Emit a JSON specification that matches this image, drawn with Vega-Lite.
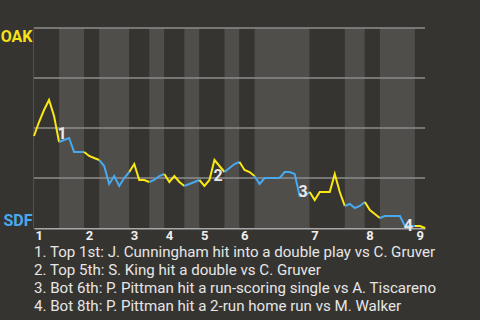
{
  "$schema": "https://vega.github.io/schema/vega-lite/v6.json",
  "width": 391,
  "height": 200,
  "autosize": {"type": "none"},
  "padding": {"left": 34, "top": 28, "right": 55, "bottom": 92},
  "background": "#363431",
  "config": {"view": {"stroke": null}, "font": "Roboto"},
  "title": {
    "text": [
      "1. Top 1st: J. Cunningham hit into a double play vs C. Gruver",
      "2. Top 5th: S. King hit a double vs C. Gruver",
      "3. Bot 6th: P. Pittman hit a run-scoring single vs A. Tiscareno",
      "4. Bot 8th: P. Pittman hit a 2-run home run vs M. Walker"
    ],
    "orient": "bottom",
    "anchor": "start",
    "frame": "group",
    "fontSize": 15.1,
    "fontWeight": "normal",
    "color": "#e6e6e6",
    "lineHeight": 18,
    "offset": 3
  },
  "datasets": {
    "halves": [
      {"p": 0, "p2": 5, "half": "top"},
      {"p": 5, "p2": 10, "half": "bot"},
      {"p": 10, "p2": 13, "half": "top"},
      {"p": 13, "p2": 19, "half": "bot"},
      {"p": 19, "p2": 23, "half": "top"},
      {"p": 23, "p2": 26, "half": "bot"},
      {"p": 26, "p2": 30, "half": "top"},
      {"p": 30, "p2": 33, "half": "bot"},
      {"p": 33, "p2": 38, "half": "top"},
      {"p": 38, "p2": 41, "half": "bot"},
      {"p": 41, "p2": 44, "half": "top"},
      {"p": 44, "p2": 55, "half": "bot"},
      {"p": 55, "p2": 62, "half": "top"},
      {"p": 62, "p2": 66, "half": "bot"},
      {"p": 66, "p2": 69, "half": "top"},
      {"p": 69, "p2": 76, "half": "bot"},
      {"p": 76, "p2": 78, "half": "top"}
    ],
    "gridlines": [
      {"wp": 0.25},
      {"wp": 0.5},
      {"wp": 0.75},
      {"wp": 1}
    ],
    "winprob": [
      {"p": 0, "wp": 0.46, "h": 1, "team": "OAK"},
      {"p": 1, "wp": 0.53, "h": 1, "team": "OAK"},
      {"p": 2, "wp": 0.59, "h": 1, "team": "OAK"},
      {"p": 3, "wp": 0.64, "h": 1, "team": "OAK"},
      {"p": 4, "wp": 0.56, "h": 1, "team": "OAK"},
      {"p": 5, "wp": 0.43, "h": 1, "team": "OAK"},
      {"p": 5, "wp": 0.43, "h": 2, "team": "SDF"},
      {"p": 6, "wp": 0.44, "h": 2, "team": "SDF"},
      {"p": 7, "wp": 0.45, "h": 2, "team": "SDF"},
      {"p": 8, "wp": 0.38, "h": 2, "team": "SDF"},
      {"p": 9, "wp": 0.38, "h": 2, "team": "SDF"},
      {"p": 10, "wp": 0.38, "h": 2, "team": "SDF"},
      {"p": 10, "wp": 0.38, "h": 3, "team": "OAK"},
      {"p": 11, "wp": 0.36, "h": 3, "team": "OAK"},
      {"p": 12, "wp": 0.35, "h": 3, "team": "OAK"},
      {"p": 13, "wp": 0.34, "h": 3, "team": "OAK"},
      {"p": 13, "wp": 0.34, "h": 4, "team": "SDF"},
      {"p": 14, "wp": 0.31, "h": 4, "team": "SDF"},
      {"p": 15, "wp": 0.22, "h": 4, "team": "SDF"},
      {"p": 16, "wp": 0.26, "h": 4, "team": "SDF"},
      {"p": 17, "wp": 0.21, "h": 4, "team": "SDF"},
      {"p": 18, "wp": 0.25, "h": 4, "team": "SDF"},
      {"p": 19, "wp": 0.28, "h": 4, "team": "SDF"},
      {"p": 19, "wp": 0.28, "h": 5, "team": "OAK"},
      {"p": 20, "wp": 0.32, "h": 5, "team": "OAK"},
      {"p": 21, "wp": 0.24, "h": 5, "team": "OAK"},
      {"p": 22, "wp": 0.24, "h": 5, "team": "OAK"},
      {"p": 23, "wp": 0.23, "h": 5, "team": "OAK"},
      {"p": 23, "wp": 0.23, "h": 6, "team": "SDF"},
      {"p": 24, "wp": 0.24, "h": 6, "team": "SDF"},
      {"p": 25, "wp": 0.26, "h": 6, "team": "SDF"},
      {"p": 26, "wp": 0.27, "h": 6, "team": "SDF"},
      {"p": 26, "wp": 0.27, "h": 7, "team": "OAK"},
      {"p": 27, "wp": 0.23, "h": 7, "team": "OAK"},
      {"p": 28, "wp": 0.26, "h": 7, "team": "OAK"},
      {"p": 29, "wp": 0.23, "h": 7, "team": "OAK"},
      {"p": 30, "wp": 0.21, "h": 7, "team": "OAK"},
      {"p": 30, "wp": 0.21, "h": 8, "team": "SDF"},
      {"p": 31, "wp": 0.22, "h": 8, "team": "SDF"},
      {"p": 32, "wp": 0.23, "h": 8, "team": "SDF"},
      {"p": 33, "wp": 0.24, "h": 8, "team": "SDF"},
      {"p": 33, "wp": 0.24, "h": 9, "team": "OAK"},
      {"p": 34, "wp": 0.21, "h": 9, "team": "OAK"},
      {"p": 35, "wp": 0.24, "h": 9, "team": "OAK"},
      {"p": 36, "wp": 0.34, "h": 9, "team": "OAK"},
      {"p": 37, "wp": 0.31, "h": 9, "team": "OAK"},
      {"p": 38, "wp": 0.28, "h": 9, "team": "OAK"},
      {"p": 38, "wp": 0.28, "h": 10, "team": "SDF"},
      {"p": 39, "wp": 0.30, "h": 10, "team": "SDF"},
      {"p": 40, "wp": 0.32, "h": 10, "team": "SDF"},
      {"p": 41, "wp": 0.33, "h": 10, "team": "SDF"},
      {"p": 41, "wp": 0.33, "h": 11, "team": "OAK"},
      {"p": 42, "wp": 0.29, "h": 11, "team": "OAK"},
      {"p": 43, "wp": 0.28, "h": 11, "team": "OAK"},
      {"p": 44, "wp": 0.26, "h": 11, "team": "OAK"},
      {"p": 44, "wp": 0.26, "h": 12, "team": "SDF"},
      {"p": 45, "wp": 0.22, "h": 12, "team": "SDF"},
      {"p": 46, "wp": 0.25, "h": 12, "team": "SDF"},
      {"p": 47, "wp": 0.25, "h": 12, "team": "SDF"},
      {"p": 48, "wp": 0.25, "h": 12, "team": "SDF"},
      {"p": 49, "wp": 0.25, "h": 12, "team": "SDF"},
      {"p": 50, "wp": 0.28, "h": 12, "team": "SDF"},
      {"p": 51, "wp": 0.28, "h": 12, "team": "SDF"},
      {"p": 52, "wp": 0.27, "h": 12, "team": "SDF"},
      {"p": 53, "wp": 0.16, "h": 12, "team": "SDF"},
      {"p": 54, "wp": 0.16, "h": 12, "team": "SDF"},
      {"p": 55, "wp": 0.18, "h": 12, "team": "SDF"},
      {"p": 55, "wp": 0.18, "h": 13, "team": "OAK"},
      {"p": 56, "wp": 0.14, "h": 13, "team": "OAK"},
      {"p": 57, "wp": 0.18, "h": 13, "team": "OAK"},
      {"p": 58, "wp": 0.18, "h": 13, "team": "OAK"},
      {"p": 59, "wp": 0.18, "h": 13, "team": "OAK"},
      {"p": 60, "wp": 0.27, "h": 13, "team": "OAK"},
      {"p": 61, "wp": 0.18, "h": 13, "team": "OAK"},
      {"p": 62, "wp": 0.11, "h": 13, "team": "OAK"},
      {"p": 62, "wp": 0.11, "h": 14, "team": "SDF"},
      {"p": 63, "wp": 0.12, "h": 14, "team": "SDF"},
      {"p": 64, "wp": 0.10, "h": 14, "team": "SDF"},
      {"p": 65, "wp": 0.11, "h": 14, "team": "SDF"},
      {"p": 66, "wp": 0.13, "h": 14, "team": "SDF"},
      {"p": 66, "wp": 0.13, "h": 15, "team": "OAK"},
      {"p": 67, "wp": 0.09, "h": 15, "team": "OAK"},
      {"p": 68, "wp": 0.07, "h": 15, "team": "OAK"},
      {"p": 69, "wp": 0.05, "h": 15, "team": "OAK"},
      {"p": 69, "wp": 0.05, "h": 16, "team": "SDF"},
      {"p": 70, "wp": 0.06, "h": 16, "team": "SDF"},
      {"p": 71, "wp": 0.06, "h": 16, "team": "SDF"},
      {"p": 72, "wp": 0.06, "h": 16, "team": "SDF"},
      {"p": 73, "wp": 0.06, "h": 16, "team": "SDF"},
      {"p": 74, "wp": 0.01, "h": 16, "team": "SDF"},
      {"p": 75, "wp": 0.01, "h": 16, "team": "SDF"},
      {"p": 76, "wp": 0.01, "h": 16, "team": "SDF"},
      {"p": 76, "wp": 0.01, "h": 17, "team": "OAK"},
      {"p": 77, "wp": 0.01, "h": 17, "team": "OAK"},
      {"p": 78, "wp": 0.0, "h": 17, "team": "OAK"}
    ],
    "events": [
      {"n": "1", "p": 5.6, "wp": 0.47},
      {"n": "2", "p": 36.7, "wp": 0.26},
      {"n": "3", "p": 53.7, "wp": 0.18},
      {"n": "4", "p": 74.7, "wp": 0.01}
    ]
  },
  "layer": [
    {
      "data": {"name": "halves"},
      "mark": {"type": "rect"},
      "encoding": {
        "x": {
          "field": "p",
          "type": "quantitative",
          "scale": {"domain": [0, 78], "nice": false, "zero": false},
          "axis": {
            "title": null,
            "values": [0, 10, 19, 26, 33, 41, 55, 66, 76],
            "labelExpr": "indexof([0, 10, 19, 26, 33, 41, 55, 66, 76], datum.value) + 1",
            "labelAlign": "left",
            "labelFlush": false,
            "labelOverlap": false,
            "labelFontSize": 13,
            "labelFontWeight": "bold",
            "labelColor": "#eeeeee",
            "labelPadding": 1,
            "labelOffset": 1,
            "ticks": false,
            "grid": false,
            "domainColor": "#a8a8a8",
            "domainWidth": 2
          }
        },
        "x2": {"field": "p2"},
        "fill": {
          "field": "half",
          "type": "nominal",
          "scale": {"domain": ["top", "bot"], "range": ["#363431", "#4f4e4b"]},
          "legend": null
        }
      }
    },
    {
      "data": {"name": "gridlines"},
      "mark": {"type": "rule", "color": "#8c8c8c", "strokeWidth": 1.5},
      "encoding": {
        "y": {"field": "wp", "type": "quantitative"}
      }
    },
    {
      "data": {"name": "winprob"},
      "mark": {"type": "line", "strokeWidth": 2},
      "encoding": {
        "x": {"field": "p", "type": "quantitative"},
        "y": {
          "field": "wp",
          "type": "quantitative",
          "scale": {"domain": [0, 1], "nice": false},
          "axis": {
            "title": null,
            "values": [0, 1],
            "labelExpr": "datum.value == 1 ? 'OAK' : 'SDF'",
            "labelColor": {"condition": {"test": "datum.value == 1", "value": "#f5e31a"}, "value": "#48a9ef"},
            "labelFontSize": 16,
            "labelFontWeight": "bold",
            "labelFlush": true,
            "labelPadding": 2,
            "ticks": false,
            "grid": false,
            "domainColor": "#a8a8a8",
            "domainWidth": 1.5
          }
        },
        "detail": {"field": "h", "type": "nominal"},
        "stroke": {
          "field": "team",
          "type": "nominal",
          "scale": {"domain": ["OAK", "SDF"], "range": ["#fbe812", "#48a9ef"]},
          "legend": null
        }
      }
    },
    {
      "data": {"name": "events"},
      "mark": {"type": "text", "fontSize": 16, "fontWeight": "bold", "color": "#e8e8e8", "align": "center", "baseline": "middle"},
      "encoding": {
        "x": {"field": "p", "type": "quantitative"},
        "y": {"field": "wp", "type": "quantitative"},
        "text": {"field": "n"}
      }
    }
  ]
}
